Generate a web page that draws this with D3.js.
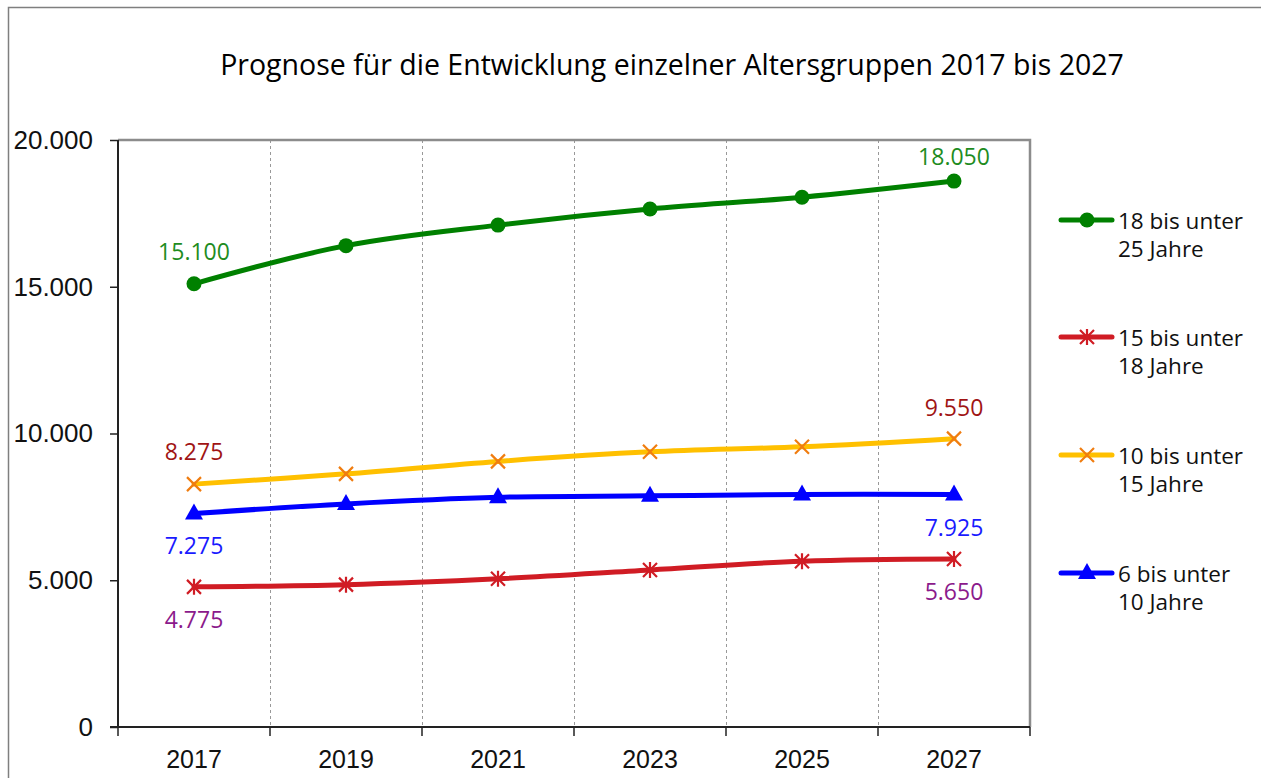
<!DOCTYPE html>
<html><head><meta charset="utf-8">
<script src="https://cdn.jsdelivr.net/npm/d3@7"></script>
<style>
body{margin:0;background:#fff;}
svg{display:block;font-family:"Open Sans","Noto Sans",sans-serif;}
</style></head>
<body>
<svg id="c" width="1261" height="778"></svg>
<script>
const title = "Prognose für die Entwicklung einzelner Altersgruppen 2017 bis 2027";
const years = ["2017","2019","2021","2023","2025","2027"];
const yTicks = [0,5000,10000,15000,20000];
const seriesNames = [["18 bis unter","25 Jahre"],["15 bis unter","18 Jahre"],["10 bis unter","15 Jahre"],["6 bis unter","10 Jahre"]];
const green = [15100,16400,17100,17650,18050,18600];
const red = [4775,4850,5050,5350,5650,5725];
const orange = [8275,8625,9050,9375,9550,9825];
const blue = [7275,7600,7825,7875,7925,7925];
// data labels as printed in the chart (first and last year)
const labelTexts = [["15.100","18.050"],["4.775","5.650"],["8.275","9.550"],["7.275","7.925"]];

const svg = d3.select("#c");
const L=118,R=1030,T=140,B=727;
const x = d3.scaleBand().domain(years).range([L,R]);
const y = d3.scaleLinear().domain([0,20000]).range([B,T]);
const fmt = v => d3.format(",")(v).replace(/,/g,".");

// outer border
svg.append("path").attr("d","M8.5,778 V7.5 H1261").attr("fill","none").attr("stroke","#7f7f7f").attr("stroke-width",1.5);

svg.append("text").attr("x",672).attr("y",75).attr("text-anchor","middle")
  .attr("font-size",28.5).attr("fill","#000").text(title);

// gridlines
const bounds = years.slice(1).map(d=>x(d));
svg.append("g").selectAll("line").data(bounds).join("line")
  .attr("x1",d=>d+0.5).attr("x2",d=>d+0.5).attr("y1",T).attr("y2",B)
  .attr("stroke","#999").attr("stroke-width",1).attr("stroke-dasharray","3,3");

// plot border top/right
svg.append("path").attr("d",`M${L},${T} H${R} V${B}`).attr("fill","none").attr("stroke","#8c8c8c").attr("stroke-width",2.5);

// y axis
const ya = svg.append("g").attr("transform",`translate(${L},0)`)
  .call(d3.axisLeft(y).tickValues(yTicks).tickFormat(fmt).tickSize(8).tickPadding(17));
ya.select(".domain").attr("stroke","#222").attr("stroke-width",2).attr("d",`M0,${T}V${B}`);
ya.selectAll(".tick line").attr("stroke","#222").attr("stroke-width",1.5);
ya.selectAll("text").attr("font-size",26).attr("fill","#111");

// x axis
const xa = svg.append("g").attr("transform",`translate(0,${B})`)
  .call(d3.axisBottom(x).tickSize(0).tickPadding(23));
xa.select(".domain").attr("stroke","#222").attr("stroke-width",2).attr("d",`M${L-8},0H${R}`);
xa.selectAll("text").attr("font-size",25).attr("fill","#111");
const xb = [L,...bounds,R];
xa.append("g").selectAll("line").data(xb).join("line")
  .attr("x1",d=>d).attr("x2",d=>d).attr("y1",0).attr("y2",9).attr("stroke","#222").attr("stroke-width",1.5);

const cx = d => x(d)+x.bandwidth()/2;
const series = [
  {vals:green,color:"#008000",mk:"circle",mcol:"#008000"},
  {vals:red,color:"#d01c24",mk:"star",mcol:"#d01c24"},
  {vals:orange,color:"#ffc000",mk:"x",mcol:"#f07d10"},
  {vals:blue,color:"#0000ff",mk:"tri",mcol:"#0000ff"}
];
const line = d3.line().x((d,i)=>cx(years[i])).y(d=>y(d)).curve(d3.curveCatmullRom.alpha(0.5));

function marker(g,type,col,px,py){
  if(type==="circle") g.append("circle").attr("cx",px).attr("cy",py).attr("r",7.5).attr("fill",col);
  else if(type==="tri") g.append("path").attr("d",`M${px},${py-10}L${px+9},${py+6}L${px-9},${py+6}Z`).attr("fill",col);
  else if(type==="x") g.append("path").attr("d",`M${px-7},${py-7}L${px+7},${py+7}M${px+7},${py-7}L${px-7},${py+7}`).attr("stroke",col).attr("stroke-width",2.2);
  else if(type==="star") g.append("path").attr("d",`M${px-7},${py-7}L${px+7},${py+7}M${px+7},${py-7}L${px-7},${py+7}M${px},${py-8}V${py+8}`).attr("stroke",col).attr("stroke-width",2.2);
}

series.forEach(s=>{
  const g = svg.append("g");
  g.append("path").attr("d",line(s.vals)).attr("fill","none").attr("stroke",s.color).attr("stroke-width",5).attr("stroke-linecap","round");
  s.vals.forEach((v,i)=>marker(g,s.mk,s.mcol,cx(years[i]),y(v)));
});

// data labels
const labelDy = [[-32,-24],[33,33],[-32,-31],[33,34]];
const lblCols=["#1e8c1e","#8b1a8b","#a01414","#1a1aff"];
const vArrs=[green,red,orange,blue];
[0,1,2,3].forEach(k=>{
  [0,5].forEach((i,j)=>{
    svg.append("text").attr("x",cx(years[i])).attr("y",y(vArrs[k][i])+labelDy[k][j]+8)
      .attr("text-anchor","middle").attr("font-size",23).attr("fill",lblCols[k]).text(labelTexts[k][j]);
  });
});

// legend
const legY=[220,337,455,573];
legY.forEach((ly,k)=>{
  const s=series[k];
  const g=svg.append("g");
  g.append("line").attr("x1",1061).attr("x2",1112).attr("y1",ly).attr("y2",ly).attr("stroke",s.color).attr("stroke-width",5).attr("stroke-linecap","round");
  marker(g,s.mk,s.mcol,1087,ly);
  const t=g.append("text").attr("x",1118).attr("y",ly+9).attr("font-size",22.5).attr("fill","#111");
  t.append("tspan").attr("x",1118).text(seriesNames[k][0]);
  t.append("tspan").attr("x",1118).attr("dy",28).text(seriesNames[k][1]);
});
</script>
</body></html>
